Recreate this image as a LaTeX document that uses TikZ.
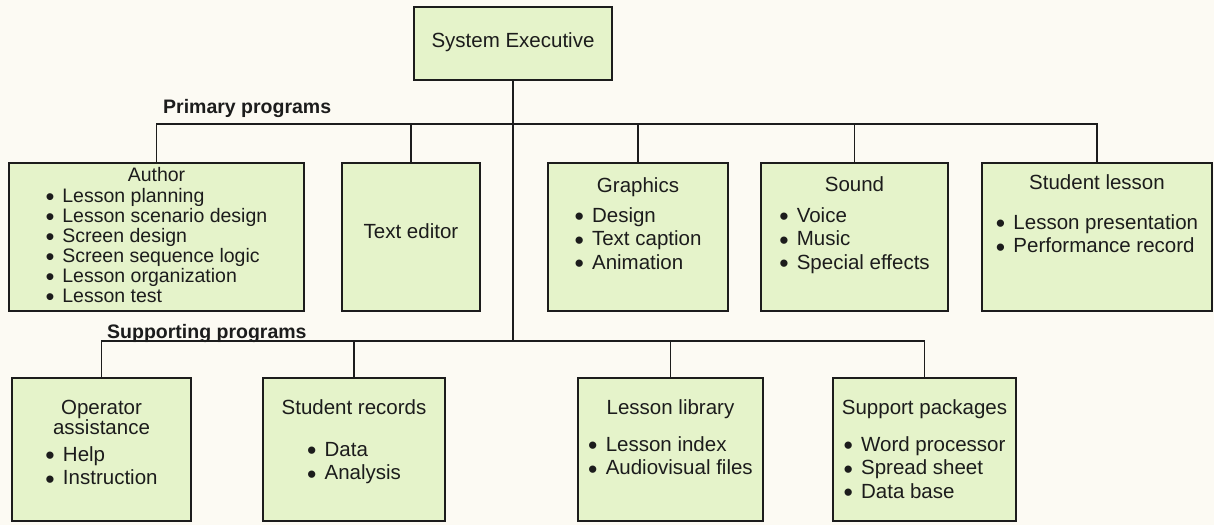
\documentclass[tikz,border=0pt]{standalone}
\usepackage{fontspec}
\setmainfont{Liberation Sans}
\usetikzlibrary{positioning,shadows}
\definecolor{paper}{RGB}{252,250,243}
\definecolor{boxfill}{RGB}{229,243,202}
\definecolor{ink}{RGB}{28,28,28}
\newcommand{\boxfont}{\fontsize{20.5}{23.5}\selectfont}
\newcommand{\bul}{\raisebox{-0.17em}{\scalebox{1.3}{\textbullet}}\hspace{0.4em}}
\newcommand{\items}[1]{\begin{tabular}[t]{@{}l@{}}#1\end{tabular}}
\tikzset{
  prog/.style={draw=ink, fill=boxfill, line width=1.5pt, inner sep=0pt,
    drop shadow={fill=ink, opacity=1, shadow xshift=0.9pt, shadow yshift=-0.9pt}},
  txt/.style={align=center, inner sep=0pt, text=ink, font=\boxfont},
  bus/.style={draw=ink, line width=1.4pt},
  head/.style={anchor=west, inner sep=0pt, text=ink, font=\fontsize{19.5}{20}\selectfont\bfseries}
}

\begin{document}
\begin{tikzpicture}[x=1pt, y=-1pt]
\fill[paper] (0,0) rectangle (1214,525);
\useasboundingbox (0,0) rectangle (1214,525);

% boxes
\node[prog, minimum width=198pt, minimum height=73pt] (exec) at (513,43.5) {};
\node[prog, minimum width=295pt, minimum height=148pt] (author) at (156.5,237) {};
\node[prog, minimum width=138pt, minimum height=148pt] (editor) at (411,237) {};
\node[prog, minimum width=180pt, minimum height=148pt] (graphics) at (638,237) {};
\node[prog, minimum width=187pt, minimum height=148pt] (sound) at (854.5,237) {};
\node[prog, minimum width=230pt, minimum height=148pt] (lesson) at (1097,237) {};
\node[prog, minimum width=179pt, minimum height=143pt] (operator) at (101.5,449.5) {};
\node[prog, minimum width=182pt, minimum height=143pt] (records) at (354,449.5) {};
\node[prog, minimum width=185pt, minimum height=143pt] (library) at (670.5,449.5) {};
\node[prog, minimum width=183pt, minimum height=143pt] (packages) at (924.5,449.5) {};

% box texts
\node[txt] (exect) at ([yshift=1pt]exec.center) {System Executive};
\node[txt, below=4.5pt of author.north, font=\fontsize{19.5}{20}\selectfont] (authort)
  {Author\\[1pt]\items{\bul Lesson planning\\ \bul Lesson scenario design\\
   \bul Screen design\\ \bul Screen sequence logic\\ \bul Lesson organization\\ \bul Lesson test}};
\node[txt] (editort) at ([yshift=6pt]editor.center) {Text editor};
\node[txt, below=15.5pt of graphics.north] (graphicst)
  {Graphics\\[6pt]\items{\bul Design\\ \bul Text caption\\ \bul Animation}};
\node[txt, below=14.5pt of sound.north] (soundt)
  {Sound\\[7pt]\items{\bul Voice\\ \bul Music\\ \bul Special effects}};
\node[txt, below=12.5pt of lesson.north] (lessont)
  {Student lesson\\[16pt]\items{\bul Lesson presentation\\ \bul Performance record}};
\node[txt, below=22.5pt of operator.north] (operatort)
  {Operator\\[-3.5pt]assistance\\[3.5pt]\items{\bul Help\\ \bul Instruction}};
\node[txt, below=22.5pt of records.north] (recordst)
  {Student records\\[18pt]\items{\bul Data\\ \bul Analysis}};
\node[txt, below=22.5pt of library.north] (libraryt)
  {Lesson library\\[13pt]\items{\bul Lesson index\\ \bul Audiovisual files}};
\node[txt, below=22.5pt of packages.north] (packagest)
  {Support packages\\[13pt]\items{\bul Word processor\\ \bul Spread sheet\\ \bul Data base}};

% group headings
\node[head] (primary) at (163,108) {Primary programs};
\node[head] (support) at (107,333) {Supporting programs};

% connectors
\coordinate (pbus) at (0,124);
\coordinate (sbus) at (0,341);
\draw[bus] (exec.south) -- (exec.south |- sbus);
\draw[bus] (author.north) |- (lesson.north |- pbus) -- (lesson.north);
\foreach \b in {editor,graphics,sound}
  \draw[bus] (\b.north) -- (\b.north |- pbus);
\draw[bus] (operator.north) |- (packages.north |- sbus) -- (packages.north);
\foreach \b in {records,library}
  \draw[bus] (\b.north) -- (\b.north |- sbus);
\end{tikzpicture}
\end{document}
